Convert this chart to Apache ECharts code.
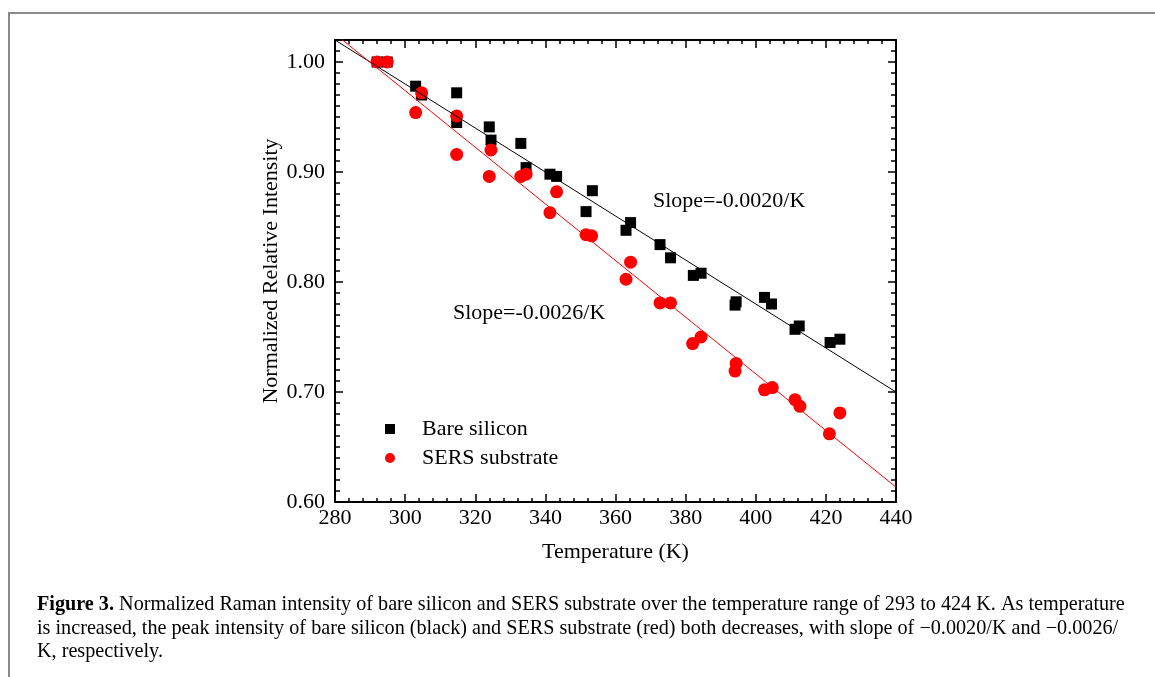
<!DOCTYPE html>
<html>
<head>
<meta charset="utf-8">
<script src="https://cdn.jsdelivr.net/npm/echarts@6/dist/echarts.min.js"></script>
<style>
  html, body { margin: 0; padding: 0; background: #fff; }
  #container { width: 1155px; height: 677px; }
</style>
</head>
<body>
<div id="container"></div>
<script>
// Bare silicon (black squares)
var bareTemp = [292.0, 294.9, 303.0, 304.7, 314.7, 314.7, 324.0, 324.5, 333.0, 334.5,
  341.3, 343.2, 351.6, 353.4, 363.0, 364.3, 372.7, 375.7, 382.2, 384.4,
  394.1, 394.4, 402.5, 404.5, 411.2, 412.4, 421.2, 424.0];
var bareVal = [1.000, 1.000, 0.978, 0.970, 0.972, 0.945, 0.941, 0.929, 0.926, 0.904,
  0.898, 0.896, 0.864, 0.883, 0.847, 0.854, 0.834, 0.822, 0.806, 0.808,
  0.779, 0.782, 0.786, 0.780, 0.757, 0.760, 0.745, 0.748];

// SERS substrate (red circles)
var sersTemp = [292.0, 294.9, 303.0, 304.7, 314.7, 314.7, 324.0, 324.5, 333.0, 334.5,
  341.3, 343.2, 351.6, 353.2, 363.0, 364.3, 372.7, 375.7, 382.0, 384.4,
  394.1, 394.4, 402.5, 404.7, 411.2, 412.6, 421.0, 424.0];
var sersVal = [1.000, 1.000, 0.954, 0.972, 0.951, 0.916, 0.896, 0.920, 0.896, 0.898,
  0.863, 0.882, 0.843, 0.842, 0.8025, 0.818, 0.781, 0.781, 0.744, 0.750,
  0.719, 0.726, 0.702, 0.704, 0.693, 0.687, 0.662, 0.681];

// linear fits (end points, clipped by the grid)
var fitTemp = [280, 440];
var bareFit = [1.020, 0.700];
var sersFit = [1.0255, 0.6135];

var FONT = '"Liberation Serif", "Times New Roman", serif';

function pairs(xs, ys) {
  return xs.map(function (x, i) { return [x, ys[i]]; });
}

var dom = document.getElementById('container');
var myChart = echarts.init(dom, null, { renderer: 'canvas' });

var lineStyleAxis = { color: '#000', width: 2 };

function xAx(pos, labels) {
  return {
    type: 'value',
    position: pos,
    min: 280,
    max: 440,
    interval: 20,
    axisLine: { show: true, onZero: false, lineStyle: lineStyleAxis },
    axisTick: { show: true, inside: true, length: 8, lineStyle: { color: '#000', width: 1.5 } },
    minorTick: { show: true, splitNumber: 5, length: 4, lineStyle: { color: '#000', width: 1.5 } },
    splitLine: { show: false },
    minorSplitLine: { show: false },
    axisLabel: { show: labels, margin: 5, fontSize: 22, fontFamily: FONT, color: '#000' },
    name: labels ? 'Temperature (K)' : '',
    nameLocation: 'middle',
    nameGap: 39,
    nameTextStyle: { fontSize: 22, fontFamily: FONT, color: '#000' }
  };
}

function yAx(pos, step, tickLen, labels, line) {
  return {
    type: 'value',
    position: pos,
    min: 0.60,
    max: 1.02,
    interval: step,
    axisLine: { show: line, onZero: false, lineStyle: lineStyleAxis },
    axisTick: { show: true, inside: true, length: tickLen, lineStyle: { color: '#000', width: 1.5 } },
    splitLine: { show: false },
    axisLabel: {
      show: labels, margin: 10, fontSize: 22, fontFamily: FONT, color: '#000',
      showMaxLabel: false,
      formatter: function (v) { return v.toFixed(2); }
    },
    name: labels ? 'Normalized Relative Intensity' : '',
    nameLocation: 'middle',
    nameGap: 50,
    nameTextStyle: { fontSize: 22, fontFamily: FONT, color: '#000' }
  };
}

var option = {
  backgroundColor: '#fff',
  animation: false,
  grid: { left: 335, top: 40, width: 561, height: 462, containLabel: false },
  xAxis: [xAx('bottom', true), xAx('top', false)],
  // majors first (left, right); the minor ones get flipped to the free side
  yAxis: [
    yAx('left', 0.1, 8, true, true),
    yAx('right', 0.1, 8, false, true),
    yAx('left', 0.01, 5, false, false),
    yAx('right', 0.01, 5, false, false)
  ],
  legend: {
    data: ['Bare silicon', 'SERS substrate'],
    orient: 'vertical',
    left: 380,
    top: 413,
    itemWidth: 10,
    itemHeight: 10,
    itemGap: 7,
    selectedMode: false,
    textStyle: { fontSize: 22, fontFamily: FONT, color: '#000', lineHeight: 20, padding: [0, 0, 0, 22] }
  },
  series: [
    {
      name: 'Bare silicon',
      type: 'scatter',
      symbol: 'rect',
      symbolSize: 11,
      itemStyle: { color: '#000', opacity: 1 },
      data: pairs(bareTemp, bareVal),
      z: 3
    },
    {
      name: 'SERS substrate',
      type: 'scatter',
      symbol: 'circle',
      symbolSize: 13,
      itemStyle: { color: '#ff0000', opacity: 1 },
      data: pairs(sersTemp, sersVal),
      z: 4
    },
    {
      name: 'fit bare',
      type: 'line',
      showSymbol: false,
      clip: true,
      silent: true,
      lineStyle: { color: '#000', width: 1 },
      data: pairs(fitTemp, bareFit),
      z: 5
    },
    {
      name: 'fit sers',
      type: 'line',
      showSymbol: false,
      clip: true,
      silent: true,
      lineStyle: { color: '#ff0000', width: 1 },
      data: pairs(fitTemp, sersFit),
      z: 5
    }
  ],
  graphic: [
    {
      type: 'polyline',
      shape: { points: [[1160, 13], [9, 13], [9, 680]] },
      style: { stroke: '#8a8a8a', lineWidth: 2, fill: null }
    },
    {
      type: 'text', left: 653, top: 190,
      style: { text: 'Slope=-0.0020/K', fontSize: 22, fontFamily: FONT, fill: '#000' }
    },
    {
      type: 'text', left: 453, top: 302,
      style: { text: 'Slope=-0.0026/K', fontSize: 22, fontFamily: FONT, fill: '#000' }
    },
    {
      type: 'text', left: 37, top: 595,
      style: {
        text: '{b|Figure 3.} Normalized Raman intensity of bare silicon and SERS substrate over the temperature range of 293 to 424 K. As temperature',
        fontSize: 20.2, fontFamily: FONT, fill: '#000',
        rich: { b: { fontWeight: 'bold', fontSize: 20.2, fontFamily: FONT } }
      }
    },
    {
      type: 'text', left: 37, top: 618.5,
      style: {
        text: 'is increased, the peak intensity of bare silicon (black) and SERS substrate (red) both decreases, with slope of \u22120.0020/K and \u22120.0026/',
        fontSize: 20.2, fontFamily: FONT, fill: '#000'
      }
    },
    {
      type: 'text', left: 37, top: 642,
      style: { text: 'K, respectively.', fontSize: 20.2, fontFamily: FONT, fill: '#000' }
    }
  ]
};

if (option && typeof option === 'object') {
  myChart.setOption(option);
}

window.addEventListener('resize', myChart.resize);
</script>
</body>
</html>
